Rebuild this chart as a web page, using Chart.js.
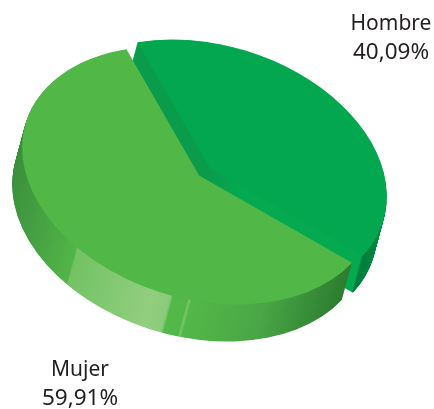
<!DOCTYPE html>
<html>
<head>
<meta charset="utf-8">
<script src="https://cdn.jsdelivr.net/npm/chart.js@4"></script>
<style>
html, body { margin: 0; padding: 0; background: #fff; }
canvas { display: block; }
</style>
</head>
<body>
<canvas id="cPie" width="434" height="409"></canvas>
<script>
const categories = ['Hombre', 'Mujer'];
const shares = [40.09, 59.91];
const topColors = ['#02a750', '#51b848'];

// Projection of the flat pie on to the tilted disc
const tilt = 17 * Math.PI / 180;
const squash = 0.68;
const centers = [{ x: 210, y: 168.5 }, { x: 199, y: 175.5 }];
const depth = { x: -10, y: 37 };
const layers = 60;

// Wall shading, position across the disc -> colour
const wallStops = [
    [[0, '#0a9c4b'], [0.5, '#0a9c4b'], [0.6, '#04a950'], [0.97, '#04a950'], [0.975, '#007d3b'], [1, '#00853f']],
    [[0, '#3a8f3c'], [0.234, '#52b548'], [0.238, '#72c263'], [0.472, '#92ce80'], [0.522, '#8acb78'],
     [0.53, '#52b848'], [0.569, '#52b848'], [0.575, '#7cc46c'], [0.581, '#52b848'], [0.776, '#4aa646'], [0.975, '#2c7d2f'], [1, '#2c7d2f']]
];

const labelSpots = [{ x: 391, y: 30 }, { x: 80, y: 376 }];
const fmtShare = v => v.toFixed(2).replace('.', ',') + '%';

function place(ctx, arc, i, dx, dy) {
    ctx.translate(centers[i].x + dx, centers[i].y + dy);
    ctx.rotate(tilt);
    ctx.scale(1, squash);
    ctx.translate(-arc.x, -arc.y);
}

const tiltedPie = {
    id: 'tiltedPie',
    beforeDatasetsDraw(chart) {
        const ctx = chart.ctx;
        chart.getDatasetMeta(0).data.forEach((arc, i) => {
            const r = arc.outerRadius;
            const grad = ctx.createLinearGradient(arc.x - r, 0, arc.x + r, 0);
            wallStops[i].forEach(s => grad.addColorStop(s[0], s[1]));
            const opts = arc.options;

            arc.options = Object.assign({}, opts, { backgroundColor: grad });
            for (let n = layers; n > 0; n--) {
                ctx.save();
                place(ctx, arc, i, depth.x * n / layers, depth.y * n / layers);
                arc.draw(ctx);
                ctx.restore();
            }
            arc.options = opts;

            ctx.save();
            place(ctx, arc, i, 0, 0);
            arc.draw(ctx);
            ctx.restore();
        });
        return false;
    },
    afterDraw(chart) {
        const ctx = chart.ctx;
        ctx.save();
        ctx.fillStyle = '#231f20';
        ctx.textAlign = 'center';
        categories.forEach((c, i) => {
            ctx.font = '21px "Noto Sans"';
            ctx.fillText(c, labelSpots[i].x, labelSpots[i].y);
            ctx.font = '22.5px "Noto Sans"';
            ctx.fillText(fmtShare(shares[i]), labelSpots[i].x, labelSpots[i].y + 29);
        });
        ctx.restore();
    }
};

new Chart(document.getElementById('cPie').getContext('2d'), {
    type: 'pie',
    data: {
        labels: categories,
        datasets: [{
            data: shares,
            backgroundColor: topColors,
            borderWidth: 0,
            radius: 181,
            rotation: -36
        }]
    },
    options: {
        responsive: false,
        animation: false,
        plugins: { legend: false, tooltip: { enabled: false } }
    },
    plugins: [tiltedPie]
});
</script>
</body>
</html>
